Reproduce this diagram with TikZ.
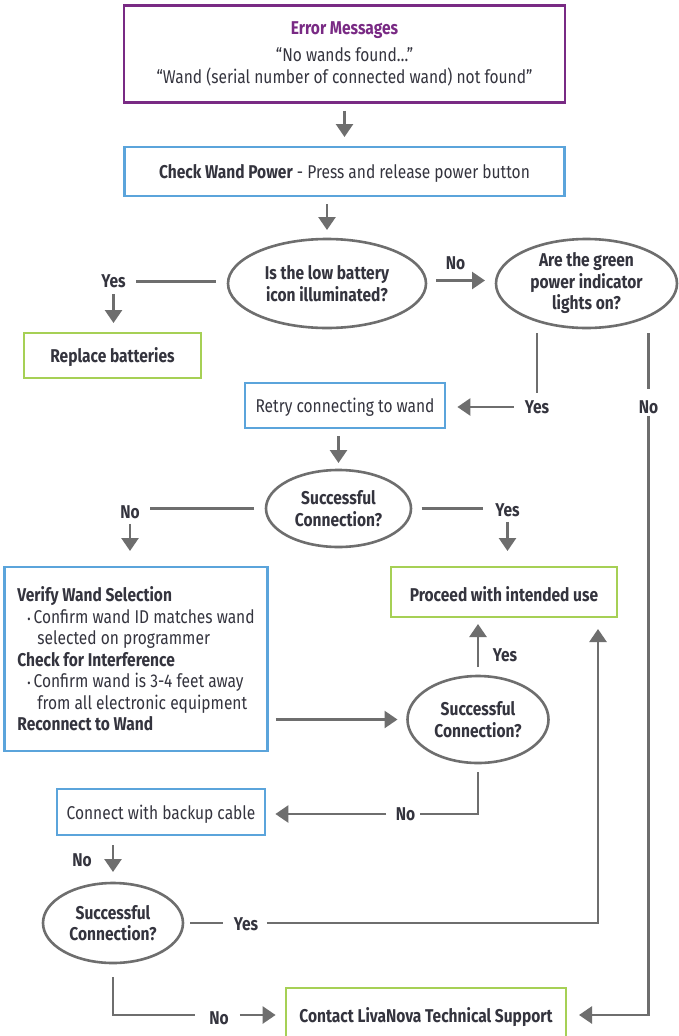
\documentclass[tikz,border=0pt]{standalone}
\usepackage{fontspec}
\setmainfont{Fira Sans}[FakeStretch=0.84]
\usetikzlibrary{shapes.geometric,arrows.meta}
\definecolor{purp}{HTML}{792A84}
\definecolor{blu}{HTML}{5BA4DB}
\definecolor{grn}{HTML}{A6D055}
\definecolor{gry}{HTML}{6E6E6E}
\definecolor{txt}{HTML}{34343E}
\newcommand{\fs}{\fontsize{18.5}{21.5}\selectfont}
\begin{document}
\begin{tikzpicture}[x=1pt,y=-1pt,
  font=\fs, text=txt,
  down/.style={execute at begin node={\rule{0pt}{#1}}},
  box/.style={draw=#1, line width=2.8pt, inner sep=0pt, align=center, down=18.5pt},
  bbox/.style={box=#1, font=\fs\bfseries},
  dec/.style={ellipse, draw=gry, line width=2.6pt, inner sep=0pt, align=center, font=\fs\bfseries, down=20pt},
  lbl/.style={font=\fs\bfseries, inner sep=1pt},
  ln/.style={draw=gry, line width=2.6pt},
  arr/.style={ln, -{Triangle[width=17pt,length=13pt]}}]
\fill[white] (0,0) rectangle (678,1036);
\useasboundingbox (0,0) rectangle (678,1036);

% boxes
\node[box=purp, minimum width=441, minimum height=97, down=20pt] (err) at (344.5,54)
  {{\bfseries\color{purp}Error Messages}\\[5.5pt]“No wands found…”\\“Wand (serial number of connected wand) not found”};
\node[box=blu, minimum width=440, minimum height=49] (check) at (344.5,171.5)
  {\textbf{Check Wand Power} - Press and release power button};
\node[dec, minimum width=198, minimum height=89] (e1) at (327,283.5) {Is the low battery\\icon illuminated?};
\node[dec, minimum width=181, minimum height=89, down=22pt] (e2) at (586.5,283.5) {Are the green\\power indicator\\lights on?};
\node[bbox=grn, minimum width=177, minimum height=45] (rep) at (112.5,355.5) {Replace batteries};
\node[box=blu, minimum width=200, minimum height=45] (retry) at (345,405.5) {Retry connecting to wand};
\node[dec, minimum width=145, minimum height=77] (e3) at (338.5,508.5) {Successful\\Connection?};
\node[box=blu, minimum width=263, minimum height=184, align=left, down=0pt] (big) at (136,659)
  {\textbf{Verify Wand Selection}\\
   \hspace*{10pt}{\fontsize{12}{12}\selectfont•}\hspace{3pt}Confirm wand ID matches wand\\
   \hspace*{20pt}selected on programmer\\
   \textbf{Check for Interference}\\
   \hspace*{10pt}{\fontsize{12}{12}\selectfont•}\hspace{3pt}Confirm wand is 3-4 feet away\\
   \hspace*{20pt}from all electronic equipment\\
   \textbf{Reconnect to Wand}};
\node[bbox=grn, minimum width=226, minimum height=50] (prc) at (504,592) {Proceed with intended use};
\node[dec, minimum width=141, minimum height=87] (e4) at (478,719.5) {Successful\\Connection?};
\node[box=blu, minimum width=208, minimum height=46] (bak) at (161,812) {Connect with backup cable};
\node[dec, minimum width=140, minimum height=80] (e5) at (113,923) {Successful\\Connection?};
\node[bbox=grn, minimum width=280, minimum height=54] (con) at (426,1015) {Contact LivaNova Technical Support};

% labels
\node[lbl] (yes1) at (113.5,281.5) {Yes};
\node[lbl] (no1) at (455.5,263) {No};
\node[lbl] (yes2) at (537,407) {Yes};
\node[lbl] (no2) at (648.5,407) {No};
\node[lbl] (no3) at (130,512) {No};
\node[lbl] (yes3) at (507.5,510) {Yes};
\node[lbl] (yes4) at (505,655) {Yes};
\node[lbl] (no4) at (405.5,814) {No};
\node[lbl] (no5) at (82,860) {No};
\node[lbl] (yes5) at (246,924) {Yes};
\node[lbl] (no6) at (219,1018) {No};

% connectors
\draw[arr, shorten <=7pt, shorten >=8.6pt] (err.south) -- (check.north);
\draw[arr, shorten <=6.6pt, shorten >=7.7pt] (check.south -| e1.north) -- (e1.north);
\draw[arr, shorten <=8.7pt, shorten >=9.7pt] ([yshift=3pt]e1.east) -- ([yshift=3pt]e2.west);
\draw[ln, shorten <=11pt, shorten >=9pt] ([yshift=2pt]e1.west) -- ([yshift=2pt]e1.west -| yes1.east);
\draw[arr, shorten <=5pt, shorten >=8.6pt] (yes1.south) -- (yes1.south |- rep.north);
\draw[ln, shorten <=4pt, shorten >=6pt] (yes2 |- e2.south) -- (yes2.north);
\draw[arr, shorten <=10pt, shorten >=11pt] (yes2.west) -- (yes2.west -| retry.east);
\draw[ln, shorten <=4pt, shorten >=10pt] (no2 |- e2.south) -- (no2.north);
\draw[arr, shorten <=1pt, shorten >=11.6pt] (no2.south) |- (con.east);
\draw[arr, shorten <=6.6pt, shorten >=5.7pt] (e3.north |- retry.south) -- (e3.north);
\draw[ln, shorten <=10.7pt, shorten >=9pt] (e3.west) -- (e3.west -| no3.east);
\draw[arr, shorten <=4pt, shorten >=14.6pt] (no3.south) -- (no3.south |- big.north);
\draw[ln, shorten <=9.4pt, shorten >=11pt] (e3.east) -- (e3.east -| yes3.west);
\draw[arr, shorten <=4pt, shorten >=14.6pt] (yes3.south) -- (yes3.south |- prc.north);
\draw[arr, shorten <=7pt, shorten >=8.7pt] (e4.west -| big.east) -- (e4.west);
\draw[arr, shorten <=7.7pt, shorten >=5.6pt] (e4.north) -- (e4.north |- prc.south);
\draw[ln, shorten <=7.7pt, shorten >=3.4pt] (e4.south) |- (no4.east);
\draw[arr, shorten <=8.6pt, shorten >=9pt] (no4.west) -- (no4.west -| bak.east);
\draw[arr, shorten <=8.6pt, shorten >=9.7pt] (bak.south -| e5.north) -- (e5.north);
\draw[ln, shorten <=5.7pt, shorten >=9.5pt] (e5.east) -- (e5.east -| yes5.west);
\draw[arr, shorten <=7.5pt, shorten >=10.6pt] (yes5.east |- e5.east) -| ([xshift=94pt]prc.south);
\draw[ln, shorten <=12.7pt, shorten >=13pt] (e5.south) |- (no6.west |- con.west);
\draw[arr, shorten <=10pt, shorten >=9pt] (no6.east |- con.west) -- (con.west);
\end{tikzpicture}
\end{document}
